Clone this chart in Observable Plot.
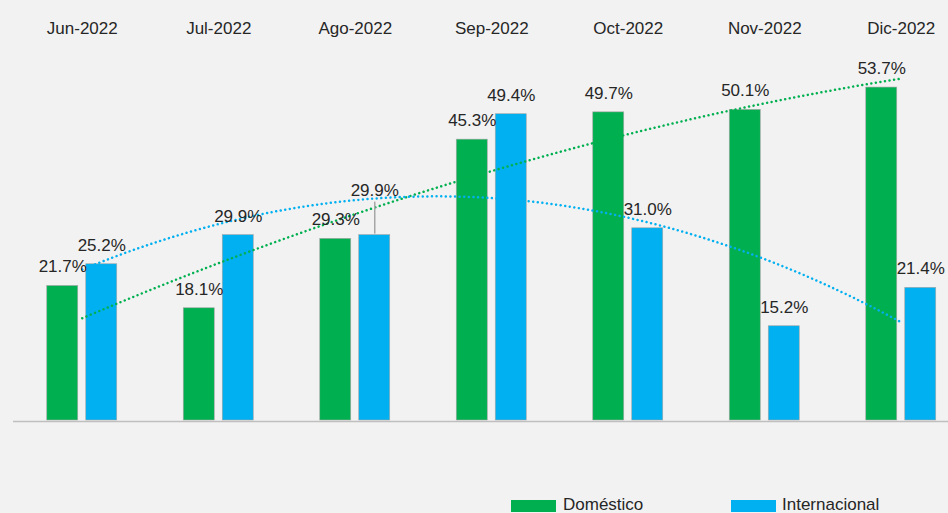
<!DOCTYPE html>
<html>
<head>
<meta charset="utf-8">
<script src="https://cdn.jsdelivr.net/npm/d3@7"></script>
<script src="https://cdn.jsdelivr.net/npm/@observablehq/plot@0.6"></script>
<style>
  html, body { margin: 0; padding: 0; background: #f2f2f2; }
  #wrap { position: relative; width: 948px; height: 513px; overflow: hidden; background: #f2f2f2;
          font-family: "Liberation Sans", Arial, sans-serif; color: #262626; }
  #chart svg { display: block; }
  .lg-sw { position: absolute; width: 45px; height: 12px; top: 500px; }
  .lg-tx { position: absolute; top: 496px; font-size: 17px; line-height: 17px; white-space: nowrap; }
</style>
</head>
<body>
<div id="wrap">
  <div id="chart"></div>
  <div class="lg-sw" style="left:511px;background:#00b050"></div>
  <div class="lg-tx" style="left:563px">Doméstico</div>
  <div class="lg-sw" style="left:731px;background:#00b0f0"></div>
  <div class="lg-tx" style="left:782px">Internacional</div>
</div>
<script>
const months = ["Jun-2022", "Jul-2022", "Ago-2022", "Sep-2022", "Oct-2022", "Nov-2022", "Dic-2022"];
const domestico = [21.7, 18.1, 29.3, 45.3, 49.7, 50.1, 53.7];
const internacional = [25.2, 29.9, 29.9, 49.4, 31.0, 15.2, 21.4];

const GREEN = "#00b050", BLUE = "#00b0f0";

// quadratic least-squares trendline (as Excel's polynomial order 2)
function quadFit(ys) {
  const n = ys.length, xs = d3.range(n);
  let s = [0,0,0,0,0], t = [0,0,0];
  xs.forEach((x, k) => {
    const y = ys[k];
    for (let p = 0; p < 5; p++) s[p] += Math.pow(x, p);
    for (let p = 0; p < 3; p++) t[p] += y * Math.pow(x, p);
  });
  const A = [[s[0], s[1], s[2], t[0]], [s[1], s[2], s[3], t[1]], [s[2], s[3], s[4], t[2]]];
  for (let i = 0; i < 3; i++) {
    for (let j = i + 1; j < 3; j++) {
      const f = A[j][i] / A[i][i];
      for (let k = i; k < 4; k++) A[j][k] -= f * A[i][k];
    }
  }
  const c = [0,0,0];
  for (let i = 2; i >= 0; i--) {
    let v = A[i][3];
    for (let k = i + 1; k < 3; k++) v -= A[i][k] * c[k];
    c[i] = v / A[i][i];
  }
  return x => c[0] + c[1] * x + c[2] * x * x;
}

const series = [
  {name: "Doméstico", values: domestico, color: GREEN, lo: -0.2564, hi: -0.0293},
  {name: "Internacional", values: internacional, color: BLUE, lo: 0.0293, hi: 0.2564}
];

const bars = series.flatMap((s, si) => s.values.map((v, i) => {
  // lift the second label of a pair whose values nearly coincide (avoids collision)
  const other = series[1 - si].values[i];
  const lifted = si === 1 && Math.abs(v - other) < 2;
  return {i, v, s, lifted};
}));
const normalLabels = bars.filter(d => !d.lifted);
const liftedLabels = bars.filter(d => d.lifted);

const trend = series.flatMap(s => {
  const f = quadFit(s.values);
  return d3.range(0, 6.0001, 0.05).map(x => ({x, y: f(x), name: s.name, color: s.color}));
});

const cx = d => d.i + (d.s.lo + d.s.hi) / 2;
const fmt = d => d.v.toFixed(1) + "%";

const chart = Plot.plot({
  width: 948,
  height: 480,
  marginTop: 48,
  marginBottom: 60,
  marginLeft: 13,
  marginRight: 0,
  style: {background: "#f2f2f2", fontFamily: "Liberation Sans, Arial, sans-serif", color: "#262626"},
  x: {domain: [-0.5, 6.5], range: [13.5, 969], axis: null},
  y: {domain: [0, 60], axis: null},
  marks: [
    Plot.rectY(bars, {
      x1: d => d.i + d.s.lo, x2: d => d.i + d.s.hi, y1: 0, y2: "v",
      fill: d => d.s.color, stroke: "#a6a6a6", strokeWidth: 0.6
    }),
    Plot.ruleY([0], {stroke: "#bfbfbf", strokeWidth: 1.6, dy: 1}),
    Plot.line(trend, {
      x: "x", y: "y", z: "name", stroke: d => d.color,
      strokeWidth: 2.5, strokeDasharray: "0.01,4.6", strokeLinecap: "round"
    }),
    // leader lines for lifted labels
    Plot.ruleX(liftedLabels, {
      x: cx, y1: "v", y2: "v", dy: -1, insetTop: -32, stroke: "#a6a6a6", strokeWidth: 1.5
    }),
    Plot.text(normalLabels, {
      x: cx, y: "v", dy: -19, text: fmt, fontSize: 17, fill: "#262626"
    }),
    Plot.text(liftedLabels, {
      x: cx, y: "v", dy: -45, text: fmt, fontSize: 17, fill: "#262626"
    }),
    Plot.text(months, {
      x: (d, i) => i, frameAnchor: "top", dy: -27, text: d => d,
      fontSize: 17, fill: "#262626"
    })
  ]
});
document.getElementById("chart").appendChild(chart);
</script>
</body>
</html>
